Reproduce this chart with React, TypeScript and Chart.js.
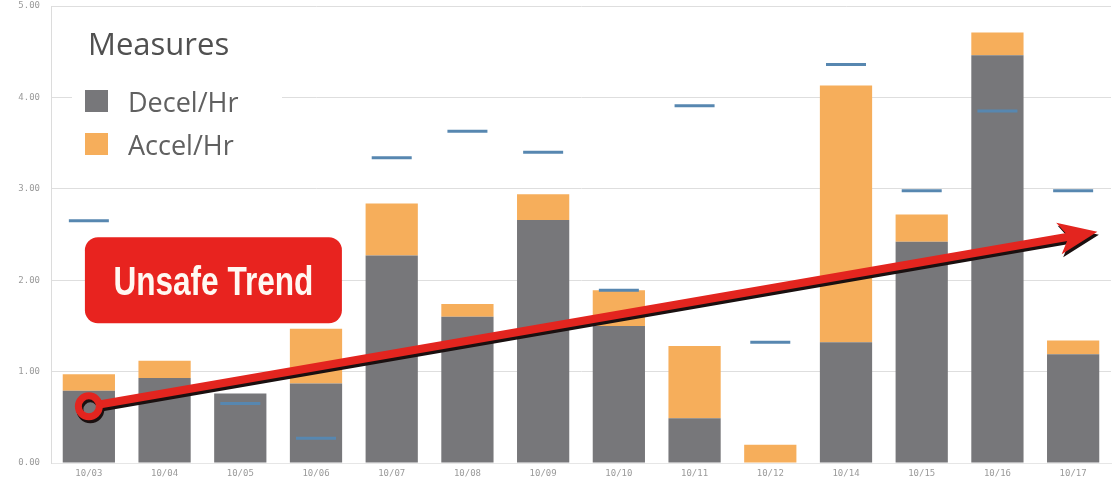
import { useEffect, useRef } from "react";
import { Chart, registerables } from "chart.js";

Chart.register(...registerables);

const categories = ["10/03", "10/04", "10/05", "10/06", "10/07", "10/08", "10/09", "10/10", "10/11", "10/12", "10/14", "10/15", "10/16", "10/17"];
const decelPerHr = [0.79, 0.93, 0.76, 0.87, 2.27, 1.6, 2.66, 1.5, 0.49, 0, 1.32, 2.42, 4.46, 1.19];
const accelPerHr = [0.18, 0.19, 0, 0.6, 0.57, 0.14, 0.28, 0.39, 0.79, 0.2, 2.81, 0.3, 0.25, 0.15];
const targetMarks: (number | null)[] = [2.65, null, 0.65, 0.27, 3.34, 3.63, 3.4, 1.89, 3.91, 1.32, 4.36, 2.98, 3.85, 2.98];
const yTicks = [0, 1, 2, 3, 4, 5];

const legendTitle = "Measures";
const seriesNames = ["Decel/Hr", "Accel/Hr"];
const trendLabel = "Unsafe Trend";
// trend arrow in data terms: [category index, value]
const trendStart = [0, 0.62];
const trendEnd = [13.32, 2.53];
const trendLabelAnchor = [1.645, 2.0];

const GRAY = "#77777a";
const ORANGE = "#f6ae5b";
const BLUE = "#5787b0";
const RED = "#e3251f";

const overlayPlugin = {
  id: "overlay",
  afterDatasetsDraw(chart: any) {
    const { ctx, chartArea, scales } = chart;
    const xs = scales.x;
    const ys = scales.y;

    // ---- Trend arrow ----
    const sx = xs.getPixelForValue(trendStart[0]);
    const sy = ys.getPixelForValue(trendStart[1]);
    const ex = xs.getPixelForValue(trendEnd[0]);
    const ey = ys.getPixelForValue(trendEnd[1]);
    const dx = ex - sx;
    const dy = ey - sy;
    const len = Math.hypot(dx, dy);
    const ux = dx / len;
    const uy = dy / len;
    const nx = -uy;
    const ny = ux;
    const headLen = 36;
    const headHalf = 16;
    const bx = ex - ux * headLen;
    const by = ey - uy * headLen;

    const drawArrow = (ox: number, oy: number, color: string) => {
      ctx.save();
      ctx.strokeStyle = color;
      ctx.fillStyle = color;
      ctx.lineWidth = 8;
      ctx.lineCap = "round";
      ctx.beginPath();
      ctx.moveTo(sx + ux * 12 + ox, sy + uy * 12 + oy);
      ctx.lineTo(bx + ux * 8 + ox, by + uy * 8 + oy);
      ctx.stroke();
      ctx.beginPath();
      ctx.moveTo(ex + ox, ey + oy);
      ctx.lineTo(bx + nx * headHalf - ux * 3 + ox, by + ny * headHalf - uy * 3 + oy);
      ctx.lineTo(bx + ux * 7 + ox, by + uy * 7 + oy);
      ctx.lineTo(bx - nx * headHalf - ux * 3 + ox, by - ny * headHalf - uy * 3 + oy);
      ctx.closePath();
      ctx.fill();
      ctx.lineWidth = 7;
      ctx.beginPath();
      ctx.arc(sx + ox, sy + oy, 10.5, 0, Math.PI * 2);
      ctx.stroke();
      ctx.restore();
    };
    drawArrow(1.5, 3, "#1a1010");
    drawArrow(0, 0, RED);

    // ---- Unsafe Trend label box ----
    const cx = xs.getPixelForValue(trendLabelAnchor[0]);
    const cy = ys.getPixelForValue(trendLabelAnchor[1]);
    const bw = 257;
    const bh = 86;
    ctx.save();
    ctx.fillStyle = "#e8231f";
    ctx.beginPath();
    (ctx as any).roundRect(cx - bw / 2, cy - bh / 2, bw, bh, 13);
    ctx.fill();
    ctx.font = "bold 41px 'Liberation Sans', Arial, sans-serif";
    const tw = ctx.measureText(trendLabel).width;
    const sxScale = 200 / tw;
    ctx.translate(cx, cy + 15);
    ctx.scale(sxScale, 1);
    ctx.fillStyle = "#fff8f2";
    ctx.textAlign = "center";
    ctx.textBaseline = "alphabetic";
    ctx.fillText(trendLabel, 0, 0);
    ctx.restore();

    // ---- Legend ----
    const lx = chartArea.left;
    const ly = chartArea.top;
    ctx.save();
    ctx.fillStyle = "#ffffff";
    ctx.fillRect(lx + 21, ly + 10, 210, 162);
    ctx.fillStyle = "#505050";
    ctx.font = "31px 'Open Sans', sans-serif";
    ctx.textAlign = "left";
    ctx.textBaseline = "alphabetic";
    ctx.fillText(legendTitle, lx + 37, ly + 49);
    const colors = [GRAY, ORANGE];
    seriesNames.forEach((name, i) => {
      const top = ly + 84 + i * 43;
      ctx.fillStyle = colors[i];
      ctx.fillRect(lx + 34, top, 23, 22);
      ctx.fillStyle = "#606060";
      ctx.font = "27px 'Open Sans', sans-serif";
      ctx.fillText(name, lx + 77, top + 22);
    });
    ctx.restore();
  },
};

const zeroPadding = (scale: any) => {
  scale.paddingTop = 0;
  scale.paddingBottom = 0;
  scale.paddingLeft = 0;
  scale.paddingRight = 0;
};

export default function App() {
  const canvasRef = useRef<HTMLCanvasElement | null>(null);

  useEffect(() => {
    document.body.style.margin = "0";
    const canvas = canvasRef.current;
    if (!canvas) return;
    const chart = new Chart(canvas, {
      type: "bar",
      data: {
        labels: categories,
        datasets: [
          {
            type: "line" as any,
            label: "Target",
            data: targetMarks as any,
            showLine: false,
            pointStyle: "line",
            pointRadius: 20,
            pointHoverRadius: 20,
            borderColor: BLUE,
            backgroundColor: BLUE,
            borderWidth: 3,
            stack: "target",
            order: 0,
          } as any,
          {
            label: seriesNames[0],
            data: decelPerHr,
            backgroundColor: GRAY,
            stack: "measures",
            order: 1,
            barPercentage: 0.69,
            categoryPercentage: 1,
          },
          {
            label: seriesNames[1],
            data: accelPerHr,
            backgroundColor: ORANGE,
            stack: "measures",
            order: 1,
            barPercentage: 0.69,
            categoryPercentage: 1,
          },
        ],
      },
      options: {
        animation: false,
        responsive: false,
        maintainAspectRatio: false,
        layout: { autoPadding: false, padding: { top: 6, right: 1, left: 0, bottom: 0 } },
        plugins: {
          legend: { display: false },
          tooltip: { enabled: false },
        },
        scales: {
          x: {
            stacked: true,
            grid: { display: false, drawTicks: false },
            border: { display: true, color: "#e6e6e6" },
            ticks: {
              color: "#9a9a9a",
              font: { family: "'DejaVu Sans Mono', monospace", size: 9 },
              padding: 5,
              maxRotation: 0,
            },
            afterFit: (scale: any) => {
              scale.height = 18;
              zeroPadding(scale);
            },
          },
          y: {
            stacked: true,
            min: yTicks[0],
            max: yTicks[yTicks.length - 1],
            afterBuildTicks: (scale: any) => {
              scale.ticks = yTicks.map((v) => ({ value: v }));
            },
            grid: { color: "#dedede", drawTicks: false },
            border: { display: true, color: "#dcdcdc" },
            ticks: {
              color: "#9a9a9a",
              font: { family: "'DejaVu Sans Mono', monospace", size: 9 },
              padding: 11,
              callback: (v: any) => Number(v).toFixed(2),
            },
            afterFit: (scale: any) => {
              scale.width = 51;
              zeroPadding(scale);
            },
          },
        },
      },
      plugins: [overlayPlugin],
    });
    return () => chart.destroy();
  }, []);

  return (
    <div style={{ position: "absolute", left: 0, top: 0, width: 1112, height: 481, background: "#fff" }}>
      <canvas ref={canvasRef} width={1112} height={481} style={{ width: 1112, height: 481 }} />
    </div>
  );
}
